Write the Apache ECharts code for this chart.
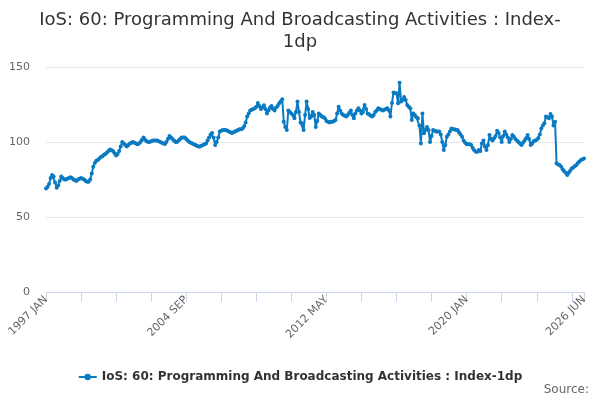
<!DOCTYPE html>
<html>
<head>
<meta charset="utf-8">
<script src="https://cdn.jsdelivr.net/npm/echarts@6/dist/echarts.min.js"></script>
<style>html,body{margin:0;padding:0;background:#fff}#c{width:600px;height:400px}</style>
</head>
<body>
<div id="c"></div>
<script>
var MONTHS = ['JAN','FEB','MAR','APR','MAY','JUN','JUL','AUG','SEP','OCT','NOV','DEC'];
var START_YEAR = 1997;
var values = [
  69, 70, 72, 76, 78, 77, 73, 69.5, 71, 74, 77, 76,
  75, 75, 75.5, 76, 76.5, 76, 75, 74.5, 74, 75, 75.5, 76,
  75.5, 75, 74, 73.5, 73.5, 75, 79, 83.5, 86, 87.5, 88, 89,
  90, 90.5, 91.5, 92, 93, 94, 95, 94.5, 94, 92.5, 91, 92,
  94, 97, 100, 99, 98, 97, 98, 99, 99.5, 100, 99.5, 99,
  98.5, 99, 100, 101.5, 103, 101.5, 100.5, 100, 100, 100.5, 101, 101,
  101, 101, 100.5, 100, 99.5, 99, 98.7, 100, 102, 104, 103, 102,
  101, 100, 100, 101, 102, 103, 103, 103, 102, 101, 100, 99.5,
  99, 98.5, 98, 97.5, 97, 97, 97.5, 98, 98.5, 99, 101, 103,
  105, 106, 103, 98, 100, 103, 107, 107.5, 108, 108, 108, 107.5,
  107, 106.5, 106, 106.5, 107, 107.5, 108, 108.5, 108.5, 109, 110.5, 113,
  117, 119, 121, 121.5, 122, 122.5, 123.5, 126, 124, 122, 123, 124.5,
  122, 119, 121, 123, 124, 122, 121, 123, 124, 125.8, 127, 128.5,
  113.5, 110, 108, 121, 120, 119, 118, 115.8, 120, 127, 120, 113,
  112.5, 108, 118, 127, 122, 116, 117, 120, 118, 110, 114, 119,
  118, 117, 116.5, 115.8, 114, 113.5, 113, 113.5, 113.5, 114, 114.7, 119,
  123.5, 121, 119, 118, 117.5, 117, 118, 119.5, 121, 118, 115.8, 119,
  121, 122.5, 121, 119, 120, 124.7, 122, 119, 118.5, 117.5, 117, 118,
  120, 121, 122.5, 122, 121.5, 121, 121.5, 122, 122.5, 121, 117, 126,
  133, 132.5, 132.5, 125.8, 139.5, 127, 128, 130, 128, 124.7, 123.5, 122.5,
  114.7, 119, 118, 116.5, 115.8, 111, 99, 119, 105.8, 108, 110, 108,
  100, 104, 108, 107.5, 107, 107, 107, 105, 100, 94.7, 98, 103.5,
  105, 107, 109, 108.5, 108.5, 108, 108, 106.5, 105, 103.5, 101, 99.5,
  98.5, 98.5, 98.5, 98, 96, 94.5, 93.5, 93.5, 94.7, 94, 99, 101,
  97, 94.7, 98, 104.7, 102, 101, 102.5, 104, 107.5, 106, 103, 100,
  104, 107, 105, 103, 100, 102, 104.7, 103.5, 102, 101, 100, 99,
  98, 99.5, 101, 102.5, 104.7, 102, 98, 99, 100.5, 101, 101.5, 102.5,
  105, 109, 111, 112.5, 117, 116.5, 115.8, 118.7, 117, 111, 113.5, 85.8,
  85, 84.7, 83.5, 81.8, 80.5, 79.5, 78, 79.5, 81, 82.5, 83, 84,
  84.7, 86, 87, 88, 88.5, 89
];
var yTicks = [0, 50, 100, 150];
var seriesName = 'IoS: 60: Programming And Broadcasting Activities : Index-1dp';
var titleText = 'IoS: 60: Programming And Broadcasting Activities : Index-\n1dp';
var sourceText = 'Source:';

var categories = [];
for (var i = 0; i < values.length; i++) {
  var y = START_YEAR + Math.floor(i / 12);
  categories.push(y + ' ' + MONTHS[i % 12]);
}
var last = categories.length - 1;

var chart = echarts.init(document.getElementById('c'), null, {renderer: 'canvas'});
chart.setOption({
  animation: false,
  backgroundColor: '#ffffff',
  textStyle: {fontFamily: 'DejaVu Sans'},
  title: {
    text: titleText,
    left: 'center',
    top: 4,
    textStyle: {fontFamily: 'DejaVu Sans', fontSize: 18, fontWeight: 'normal', color: '#333333', lineHeight: 22}
  },
  legend: {
    bottom: 12,
    left: 'center',
    itemWidth: 18,
    itemHeight: 8,
    textStyle: {fontFamily: 'DejaVu Sans', fontSize: 12, fontWeight: 'bold', color: '#333333'},
    data: [seriesName]
  },
  graphic: [{
    type: 'text',
    right: 11,
    bottom: 4,
    style: {text: sourceText, fontFamily: 'DejaVu Sans', fontSize: 12, fill: '#666666'}
  }],
  grid: {left: 46, right: 16, top: 67, bottom: 108, containLabel: false},
  xAxis: {
    type: 'category',
    data: categories,
    boundaryGap: false,
    axisLine: {lineStyle: {color: '#ccd6eb', width: 1}},
    axisTick: {
      show: true,
      length: 10,
      lineStyle: {color: '#ccd6eb'},
      interval: function (idx) { return idx % 23 === 0 || idx === last; }
    },
    axisLabel: {
      rotate: 45,
      color: '#666666',
      fontSize: 11,
      fontFamily: 'DejaVu Sans',
      margin: 6,
      interval: function (idx) { return idx % 92 === 0 || idx === last; }
    },
    splitLine: {show: false}
  },
  yAxis: {
    type: 'value',
    min: yTicks[0],
    max: yTicks[yTicks.length - 1],
    interval: 50,
    axisLine: {show: false},
    axisTick: {show: false},
    axisLabel: {color: '#666666', fontSize: 11, fontFamily: 'DejaVu Sans', margin: 16},
    splitLine: {lineStyle: {color: '#e6e6e6', width: 1}}
  },
  series: [{
    name: seriesName,
    type: 'line',
    data: values,
    color: '#0a7bc2',
    lineStyle: {width: 2, color: '#0a7bc2'},
    showSymbol: true,
    showAllSymbol: true,
    symbol: 'circle',
    symbolSize: 4,
    itemStyle: {color: '#0a7bc2'}
  }]
});
</script>
</body>
</html>
